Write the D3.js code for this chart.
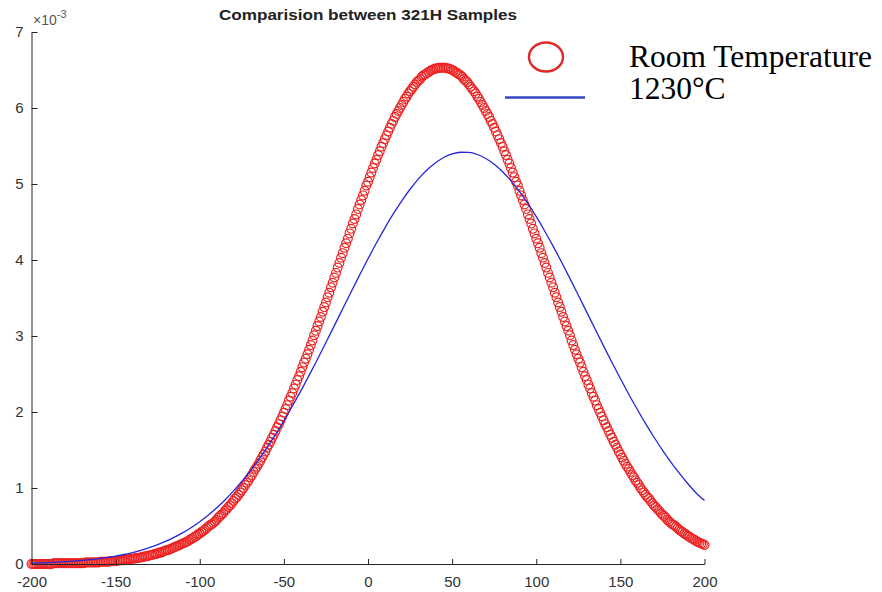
<!DOCTYPE html>
<html>
<head>
<meta charset="utf-8">
<script src="https://cdn.jsdelivr.net/npm/d3@7"></script>
<style>
  html, body { margin: 0; padding: 0; background: #fff; }
  .axis text { font-family: "Liberation Sans", Arial, sans-serif; font-size: 15px; fill: #333; }
  .axis path, .axis line { stroke: #262626; stroke-width: 1; }
</style>
</head>
<body>
<div id="chart"></div>
<script>
// values are in units of 1e-3 (the axis shows x10^-3)
var title = 'Comparision between 321H Samples';
var seriesNames = ['Room Temperature', '1230\u00B0C'];
var xTicks = [-200, -150, -100, -50, 0, 50, 100, 150, 200];
var yTicks = [0, 1, 2, 3, 4, 5, 6, 7];

// room temperature: one marker per unit from x=-200 to x=200
var roomStart = -200;
var roomTemp = [
  0,0,0,0,0,0,0,0,0,0,                                  // -200..-191
  0,0,0,0.01,0.01,0.01,0.01,0.01,0.01,0.01,             // -190..-181
  0.01,0.01,0.01,0.01,0.01,0.01,0.01,0.01,0.01,0.01,    // -180..-171
  0.01,0.01,0.02,0.02,0.02,0.02,0.02,0.02,0.02,0.02,    // -170..-161
  0.02,0.03,0.03,0.03,0.03,0.03,0.03,0.04,0.04,0.04,    // -160..-151
  0.04,0.04,0.05,0.05,0.05,0.05,0.06,0.06,0.06,0.07,    // -150..-141
  0.07,0.07,0.08,0.08,0.08,0.09,0.09,0.10,0.10,0.11,    // -140..-131
  0.11,0.12,0.12,0.13,0.13,0.14,0.15,0.15,0.16,0.17,    // -130..-121
  0.18,0.18,0.19,0.20,0.21,0.22,0.23,0.24,0.25,0.26,    // -120..-111
  0.27,0.28,0.29,0.30,0.32,0.33,0.34,0.36,0.37,0.39,    // -110..-101
  0.40,0.42,0.43,0.45,0.47,0.49,0.51,0.52,0.54,0.56,    // -100..-91
  0.58,0.61,0.63,0.65,0.67,0.70,0.72,0.75,0.77,0.80,    // -90..-81
  0.83,0.86,0.88,0.91,0.94,0.97,1.00,1.04,1.07,1.10,    // -80..-71
  1.14,1.17,1.21,1.25,1.28,1.32,1.36,1.40,1.44,1.48,    // -70..-61
  1.53,1.57,1.61,1.66,1.70,1.75,1.80,1.84,1.89,1.94,    // -60..-51
  1.99,2.04,2.09,2.15,2.20,2.25,2.31,2.36,2.42,2.47,    // -50..-41
  2.53,2.59,2.65,2.70,2.76,2.82,2.88,2.94,3.01,3.07,    // -40..-31
  3.13,3.19,3.25,3.32,3.38,3.44,3.51,3.57,3.64,3.70,    // -30..-21
  3.77,3.83,3.90,3.96,4.03,4.09,4.16,4.22,4.28,4.35,    // -20..-11
  4.41,4.48,4.54,4.60,4.67,4.73,4.79,4.85,4.91,4.98,    // -10..-1
  5.03,5.09,5.15,5.21,5.27,5.32,5.38,5.43,5.49,5.54,    // 0..9
  5.59,5.64,5.69,5.74,5.79,5.83,5.88,5.92,5.96,6.00,    // 10..19
  6.04,6.08,6.12,6.15,6.19,6.22,6.25,6.28,6.31,6.34,    // 20..29
  6.36,6.38,6.41,6.43,6.44,6.46,6.47,6.49,6.50,6.51,    // 30..39
  6.52,6.52,6.53,6.53,6.53,6.53,6.53,6.52,6.52,6.51,    // 40..49
  6.50,6.49,6.47,6.46,6.44,6.43,6.41,6.38,6.36,6.34,    // 50..59
  6.31,6.28,6.25,6.22,6.19,6.15,6.12,6.08,6.04,6.00,    // 60..69
  5.96,5.92,5.88,5.83,5.79,5.74,5.69,5.64,5.59,5.54,    // 70..79
  5.49,5.43,5.38,5.32,5.27,5.21,5.15,5.09,5.03,4.98,    // 80..89
  4.91,4.85,4.79,4.73,4.67,4.60,4.54,4.48,4.41,4.35,    // 90..99
  4.28,4.22,4.16,4.09,4.03,3.96,3.90,3.83,3.77,3.70,    // 100..109
  3.64,3.57,3.51,3.44,3.38,3.32,3.25,3.19,3.13,3.07,    // 110..119
  3.01,2.94,2.88,2.82,2.76,2.70,2.65,2.59,2.53,2.47,    // 120..129
  2.42,2.36,2.31,2.25,2.20,2.15,2.09,2.04,1.99,1.94,    // 130..139
  1.89,1.84,1.80,1.75,1.70,1.66,1.61,1.57,1.53,1.48,    // 140..149
  1.44,1.40,1.36,1.32,1.28,1.25,1.21,1.17,1.14,1.10,    // 150..159
  1.07,1.04,1.00,0.97,0.94,0.91,0.88,0.86,0.83,0.80,    // 160..169
  0.77,0.75,0.72,0.70,0.67,0.65,0.63,0.61,0.58,0.56,    // 170..179
  0.54,0.52,0.51,0.49,0.47,0.45,0.43,0.42,0.40,0.39,    // 180..189
  0.37,0.36,0.34,0.33,0.32,0.30,0.29,0.28,0.27,0.26,    // 190..199
  0.25                                                  // 200
];

// 1230 C: sampled every 5 units
var hotX = [-200,-195,-190,-185,-180,-175,-170,-165,-160,-155,-150,-145,-140,-135,-130,-125,-120,-115,-110,-105,
  -100,-95,-90,-85,-80,-75,-70,-65,-60,-55,-50,-45,-40,-35,-30,-25,-20,-15,-10,-5,
  0,5,10,15,20,25,30,35,40,45,50,55,60,65,70,75,80,85,90,95,
  100,105,110,115,120,125,130,135,140,145,150,155,160,165,170,175,180,185,190,195,200];
var hotVals = [0.012,0.015,0.019,0.024,0.030,0.038,0.047,0.057,0.070,0.086,0.104,0.125,0.151,0.180,0.215,0.255,0.301,0.353,0.413,0.481,
  0.557,0.642,0.738,0.843,0.959,1.085,1.223,1.372,1.532,1.703,1.884,2.075,2.274,2.482,2.695,2.914,3.136,3.359,3.582,3.801,
  4.016,4.223,4.420,4.606,4.776,4.931,5.067,5.183,5.277,5.349,5.396,5.418,5.416,5.388,5.336,5.260,5.162,5.042,4.902,4.744,
  4.570,4.382,4.182,3.973,3.758,3.537,3.314,3.091,2.870,2.652,2.440,2.234,2.036,1.847,1.668,1.499,1.341,1.195,1.059,0.935,0.835];

var width = 882, height = 592;
var red = '#ec2222', blue = '#2626d9';

var xScale = d3.scaleLinear().domain([-200, 200]).range([31.5, 704.5]);
var yScale = d3.scaleLinear().domain([0, 7]).range([564, 32]);

var svg = d3.select('#chart').append('svg')
  .attr('width', width)
  .attr('height', height)
  .style('display', 'block');

svg.append('rect').attr('width', width).attr('height', height).attr('fill', '#fff');

var roomData = roomTemp.map(function(v, i) { return {x: roomStart + i, y: v}; });
var hotData = hotX.map(function(x, i) { return {x: x, y: hotVals[i]}; });

// red markers first, blue line over them
svg.append('g').selectAll('circle')
  .data(roomData)
  .enter()
  .append('circle')
  .attr('cx', function(d) { return xScale(d.x); })
  .attr('cy', function(d) { return yScale(d.y); })
  .attr('r', 4.4)
  .attr('fill', 'none')
  .attr('stroke', red)
  .attr('stroke-width', 1.2);

var line = d3.line()
  .x(function(d) { return xScale(d.x); })
  .y(function(d) { return yScale(d.y); })
  .curve(d3.curveMonotoneX);

svg.append('path')
  .datum(hotData)
  .attr('d', line)
  .attr('fill', 'none')
  .attr('stroke', blue)
  .attr('stroke-width', 1.3);

// axes: only left and bottom, ticks point inwards
svg.append('g').attr('class', 'axis')
  .attr('transform', 'translate(0,' + yScale(0) + ')')
  .call(d3.axisBottom(xScale).tickValues(xTicks).tickSizeInner(-5).tickSizeOuter(0).tickPadding(12)
    .tickFormat(function(d) { return d; }));

svg.append('g').attr('class', 'axis')
  .attr('transform', 'translate(' + xScale(-200) + ',0)')
  .call(d3.axisLeft(yScale).tickValues(yTicks).tickSizeInner(-6).tickSizeOuter(0).tickPadding(8)
    .tickFormat(function(d) { return d; }));

// exponent label
var expo = svg.append('text')
  .attr('x', 33).attr('y', 25)
  .attr('font-family', 'Liberation Sans, Arial, sans-serif')
  .attr('font-size', 14)
  .attr('fill', '#555');
expo.append('tspan').text('\u00D710');
expo.append('tspan').attr('dy', -7).attr('font-size', 11).text('-3');

svg.append('text')
  .attr('x', (xScale(-200) + xScale(200)) / 2)
  .attr('y', 20)
  .attr('text-anchor', 'middle')
  .attr('font-family', 'Liberation Sans, Arial, sans-serif')
  .attr('font-weight', 'bold')
  .attr('font-size', 15)
  .attr('textLength', 298)
  .attr('lengthAdjust', 'spacingAndGlyphs')
  .attr('fill', '#222')
  .text(title);

// legend
var legend = svg.append('g');
legend.append('ellipse')
  .attr('cx', 546).attr('cy', 57)
  .attr('rx', 17).attr('ry', 14.5)
  .attr('fill', 'none')
  .attr('stroke', '#dd2a2a')
  .attr('stroke-width', 2.4);
legend.append('line')
  .attr('x1', 505).attr('x2', 585)
  .attr('y1', 97.5).attr('y2', 97.5)
  .attr('stroke', '#3547c4')
  .attr('stroke-width', 2.6);
legend.selectAll('text.leg')
  .data(seriesNames)
  .enter()
  .append('text')
  .attr('class', 'leg')
  .attr('x', 629)
  .attr('y', function(d, i) { return 67 + i * 31.5; })
  .attr('font-family', 'Liberation Serif, Times New Roman, serif')
  .attr('font-size', 31.5)
  .attr('fill', '#000')
  .text(function(d) { return d; });
</script>
</body>
</html>
